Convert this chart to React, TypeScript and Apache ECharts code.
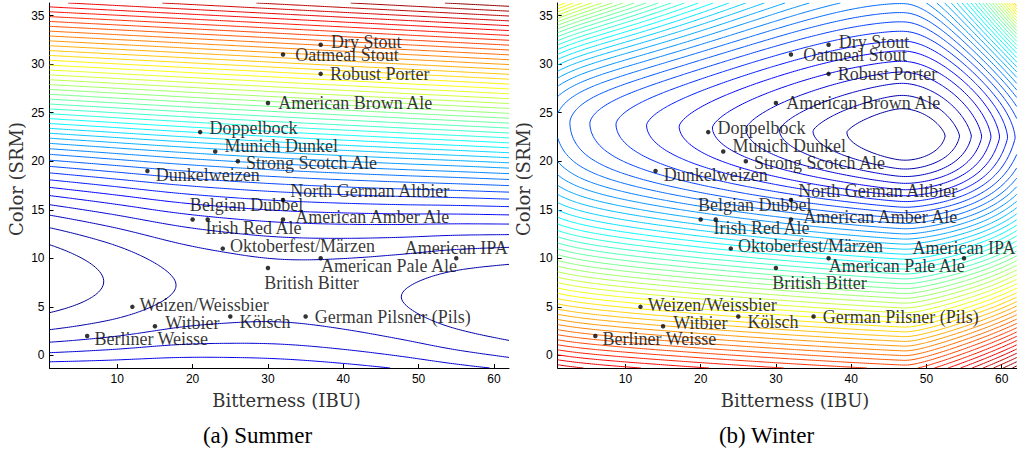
import React, { useEffect, useRef } from 'react';
import * as echarts from 'echarts';

// ---------- data ----------
const beerNames = [
  'Dry Stout', 'Oatmeal Stout', 'Robust Porter', 'American Brown Ale', 'Doppelbock',
  'Munich Dunkel', 'Strong Scotch Ale', 'Dunkelweizen', 'North German Altbier', 'Belgian Dubbel',
  'Irish Red Ale', 'American Amber Ale', 'Oktoberfest/Märzen', 'American IPA', 'American Pale Ale',
  'British Bitter', 'Weizen/Weissbier', 'Witbier', 'Kölsch', 'German Pilsner (Pils)', 'Berliner Weisse',
];
const beerIBU = [37, 32, 37, 30, 21, 23, 26, 14, 32, 20, 22, 32, 24, 55, 37, 30, 12, 15, 25, 35, 6];
const beerSRM = [32, 31, 29, 26, 23, 21, 20, 19, 16, 14, 14, 14, 11, 10, 10, 9, 5, 3, 4, 4, 2];

const xTicks = [10, 20, 30, 40, 50, 60];
const yTicks = [0, 5, 10, 15, 20, 25, 30, 35];
const xRange = [1, 62];
const yRange = [-1.3, 36.3];

// summer surface: valley line and valley-floor height
const summerValleyIBU = [1, 62];
const summerValleySRM = [7.9, 5.46];
const summerFloorIBU = [1, 8.2, 17.8, 26, 32, 40, 47.7, 55, 62];
const summerFloorVal = [0.2, 1.0, 2.0, 2.4, 2.5, 2.35, 2.0, 1.5, 1.1];

// winter surface: minimum location
const winterMinIBU = 47;
const winterMinSRM = 22.8;

// ---------- label placement (style) ----------
const labelStyle: Record<string, any> = {
  'Dry Stout': { offset: [1, -3] },
  'Oatmeal Stout': { offset: [3, 1] },
  'Robust Porter': { offset: [0, 0] },
  'American Brown Ale': { offset: [1, 0] },
  'Doppelbock': { offset: [0, -4] },
  'Munich Dunkel': { offset: [0, -6] },
  'Strong Scotch Ale': { offset: [-1, 2] },
  'Dunkelweizen': { offset: [-1, 4] },
  'North German Altbier': { offset: [-2, -9] },
  'Belgian Dubbel': { offset: [-12, -14] },
  'Irish Red Ale': { offset: [-11.5, 9] },
  'American Amber Ale': { offset: [3, -2] },
  'Oktoberfest/Märzen': { offset: [-2, -3] },
  'American IPA': { position: 'top', distance: 0, offset: [0, 1] },
  'American Pale Ale': { offset: [-9, 8] },
  'British Bitter': { offset: [-13, 15] },
  'Weizen/Weissbier': { offset: [-2, -2] },
  'Witbier': { offset: [1, -3] },
  'Kölsch': { offset: [0, 5] },
  'German Pilsner (Pils)': { offset: [0, 0] },
  'Berliner Weisse': { offset: [-2, 3] },
};

type Pt = [number, number];

function interp(xs: number[], ys: number[], x: number): number {
  const n = xs.length;
  if (x <= xs[0]) return ys[0];
  if (x >= xs[n - 1]) return ys[n - 1];
  let k = 0;
  while (k < n - 2 && x > xs[k + 1]) k++;
  const slope = (i: number) => {
    if (i === 0) return (ys[1] - ys[0]) / (xs[1] - xs[0]);
    if (i === n - 1) return (ys[n - 1] - ys[n - 2]) / (xs[n - 1] - xs[n - 2]);
    const d0 = (ys[i] - ys[i - 1]) / (xs[i] - xs[i - 1]);
    const d1 = (ys[i + 1] - ys[i]) / (xs[i + 1] - xs[i]);
    return d0 * d1 <= 0 ? 0 : (d0 + d1) / 2;
  };
  const h = xs[k + 1] - xs[k];
  const t = (x - xs[k]) / h;
  const m0 = slope(k) * h, m1 = slope(k + 1) * h;
  const t2 = t * t, t3 = t2 * t;
  return (2 * t3 - 3 * t2 + 1) * ys[k] + (t3 - 2 * t2 + t) * m0 + (-2 * t3 + 3 * t2) * ys[k + 1] + (t3 - t2) * m1;
}

function summerField(x: number, y: number): number {
  const c = summerValleySRM[0] + (summerValleySRM[1] - summerValleySRM[0]) * (x - summerValleyIBU[0]) / (summerValleyIBU[1] - summerValleyIBU[0]);
  const d = y - c;
  const ad = Math.abs(d);
  const phi = ad < 15 ? (d * d) / 15 : 15 + 2 * (ad - 15);
  return phi + interp(summerFloorIBU, summerFloorVal, x) * Math.exp(-(d * d) / 128);
}

function winterField(x: number, y: number): number {
  const u = x - winterMinIBU;
  const yc = winterMinSRM - 0.028 * (x - winterMinIBU);
  const v = y - yc;
  let A: number;
  if (u < 0) {
    const s = -u;
    A = 0.225 * (Math.sqrt(s * s + 2.25) - 1.5) + 1.2 * Math.exp((s - 46) / 3.4);
  } else A = 0.064 * Math.pow(u, 1.81);
  const B = v > 0 ? 0.41 * Math.pow(v, 1.28) : 2.1 * (Math.sqrt(v * v + 26) - 5.1);
  const L0 = 10;
  const s2 = A * A + B * B + L0 * (A + B);
  const f = (-L0 + Math.sqrt(L0 * L0 + 4 * s2)) / 2;
  let cross = 0;
  if (u < 0 && v > 0) cross = 5.0e-5 * (u * v) * (u * v);
  else if (u > 0 && v < 0) cross = 0.027 * ((u * u) / (u + 3)) * -v;
  else if (u > 0 && v > 0) cross = 4.2e-4 * (u * v) * (u * v);
  return f + cross;
}

function jet(t: number): string {
  const cl = (v: number) => Math.max(0, Math.min(1, v));
  const r = cl(1.5 - Math.abs(4 * t - 3));
  const g = cl(1.5 - Math.abs(4 * t - 2));
  const b = cl(1.5 - Math.abs(4 * t - 1));
  return `rgb(${Math.round(r * 255)},${Math.round(g * 255)},${Math.round(b * 255)})`;
}

function buildContours(field: (x: number, y: number) => number, levelStart: number, nx: number, ny: number) {
  const [x0, x1] = xRange;
  const [y0, y1] = yRange;
  const xs = Array.from({ length: nx }, (_, i) => x0 + ((x1 - x0) * i) / (nx - 1));
  const ys = Array.from({ length: ny }, (_, j) => y0 + ((y1 - y0) * j) / (ny - 1));
  const V = new Float64Array(nx * ny);
  let vmin = Infinity, vmax = -Infinity;
  for (let j = 0; j < ny; j++)
    for (let i = 0; i < nx; i++) {
      const v = field(xs[i], ys[j]);
      V[j * nx + i] = v;
      if (v < vmin) vmin = v;
      if (v > vmax) vmax = v;
    }
  const levels: number[] = [];
  for (let L = levelStart; L < vmax; L += 1) levels.push(L);
  const out: { coords: Pt[]; lineStyle: any }[] = [];
  const table: Record<number, number[][]> = {
    1: [[3, 0]], 2: [[0, 1]], 3: [[3, 1]], 4: [[1, 2]], 6: [[0, 2]], 7: [[3, 2]],
    8: [[2, 3]], 9: [[0, 2]], 11: [[1, 2]], 12: [[1, 3]], 13: [[0, 1]], 14: [[3, 0]],
  };
  for (const L of levels) {
    const segs: { ka: number; pa: Pt; kb: number; pb: Pt }[] = [];
    for (let j = 0; j < ny - 1; j++) {
      for (let i = 0; i < nx - 1; i++) {
        const a = V[j * nx + i], b = V[j * nx + i + 1], c = V[(j + 1) * nx + i + 1], d = V[(j + 1) * nx + i];
        const idx = (a > L ? 1 : 0) | (b > L ? 2 : 0) | (c > L ? 4 : 0) | (d > L ? 8 : 0);
        if (idx === 0 || idx === 15) continue;
        let pairs: number[][];
        if (idx === 5 || idx === 10) {
          const centre = (a + b + c + d) / 4 > L;
          if (idx === 5) pairs = centre ? [[0, 1], [2, 3]] : [[3, 0], [1, 2]];
          else pairs = centre ? [[3, 0], [1, 2]] : [[0, 1], [2, 3]];
        } else pairs = table[idx];
        const edge = (e: number): [number, Pt] => {
          if (e === 0) { const t = (L - a) / (b - a); return [(j * nx + i) * 2, [xs[i] + t * (xs[i + 1] - xs[i]), ys[j]]]; }
          if (e === 1) { const t = (L - b) / (c - b); return [(j * nx + i + 1) * 2 + 1, [xs[i + 1], ys[j] + t * (ys[j + 1] - ys[j])]]; }
          if (e === 2) { const t = (L - d) / (c - d); return [((j + 1) * nx + i) * 2, [xs[i] + t * (xs[i + 1] - xs[i]), ys[j + 1]]]; }
          const t = (L - a) / (d - a);
          return [(j * nx + i) * 2 + 1, [xs[i], ys[j] + t * (ys[j + 1] - ys[j])]];
        };
        for (const [e1, e2] of pairs) {
          const [ka, pa] = edge(e1);
          const [kb, pb] = edge(e2);
          segs.push({ ka, pa, kb, pb });
        }
      }
    }
    const map = new Map<number, number[]>();
    segs.forEach((s, k) => {
      if (!map.has(s.ka)) map.set(s.ka, []);
      map.get(s.ka)!.push(k);
      if (!map.has(s.kb)) map.set(s.kb, []);
      map.get(s.kb)!.push(k);
    });
    const used = new Uint8Array(segs.length);
    const color = jet((L - vmin) / (vmax - vmin));
    for (let k = 0; k < segs.length; k++) {
      if (used[k]) continue;
      used[k] = 1;
      const fwd: Pt[] = [segs[k].pa, segs[k].pb];
      const back: Pt[] = [];
      const walk = (startKey: number, arr: Pt[]) => {
        let key = startKey;
        for (;;) {
          const list = map.get(key) || [];
          let n = -1;
          for (const c of list) if (!used[c]) { n = c; break; }
          if (n < 0) break;
          used[n] = 1;
          const s = segs[n];
          if (s.ka === key) { arr.push(s.pb); key = s.kb; } else { arr.push(s.pa); key = s.ka; }
        }
      };
      walk(segs[k].kb, fwd);
      walk(segs[k].ka, back);
      const pts = back.reverse().concat(fwd).map((p) => [Math.round(p[0] * 1000) / 1000, Math.round(p[1] * 1000) / 1000] as Pt);
      out.push({ coords: pts, lineStyle: { color } });
    }
  }
  return out;
}

const FONT_SERIF = 'Liberation Serif';

function axes(gridIndex: number) {
  const x = {
    type: 'value', gridIndex, min: xRange[0], max: xRange[1],
    axisLine: { show: true, onZero: false, lineStyle: { color: '#000', width: 1 } },
    axisTick: { show: true, inside: true, length: 4, customValues: xTicks, lineStyle: { color: '#000' } },
    axisLabel: { customValues: xTicks, color: '#000', fontFamily: 'Liberation Sans', fontSize: 12, margin: 5 },
    splitLine: { show: false },
  };
  const y = {
    type: 'value', gridIndex, min: yRange[0], max: yRange[1],
    axisLine: { show: true, onZero: false, lineStyle: { color: '#000', width: 1 } },
    axisTick: { show: true, inside: true, length: 4, customValues: yTicks, lineStyle: { color: '#000' } },
    axisLabel: { customValues: yTicks, color: '#000', fontFamily: 'Liberation Sans', fontSize: 12, margin: 5 },
    splitLine: { show: false },
  };
  return { x, y };
}

function scatterSeries(idx: number) {
  return {
    type: 'scatter', xAxisIndex: idx, yAxisIndex: idx, symbolSize: 4.5, z: 5, silent: true,
    itemStyle: { color: '#000' },
    label: {
      show: true, formatter: '{b}', position: 'right', distance: 7,
      fontFamily: FONT_SERIF, fontSize: 18, color: '#000',
    },
    data: beerNames.map((n, i) => ({ name: n, value: [beerIBU[i], beerSRM[i]], label: labelStyle[n] || {} })),
  };
}

export default function App() {
  const ref = useRef<HTMLDivElement>(null);
  useEffect(() => {
    if (!ref.current) return;
    const chart = echarts.init(ref.current, undefined, { renderer: 'svg' });
    const summerLines = buildContours(summerField, 1, 220, 160);
    const winterLines = buildContours(winterField, 1.4, 220, 160);
    const a0 = axes(0), a1 = axes(1);
    const titleFont = '18px "DejaVu Serif"';
    const ts = { fill: '#333', align: 'center', verticalAlign: 'middle', textAlign: 'center', textVerticalAlign: 'middle' };
    chart.setOption({
      animation: false,
      backgroundColor: '#fff',
      grid: [
        { left: 49.5, top: 3, width: 459.5, height: 365 },
        { left: 557.7, top: 3, width: 459, height: 365 },
      ],
      xAxis: [a0.x, a1.x],
      yAxis: [a0.y, a1.y],
      series: [
        { type: 'lines', coordinateSystem: 'cartesian2d', xAxisIndex: 0, yAxisIndex: 0, polyline: true, silent: true, z: 1, lineStyle: { width: 1, opacity: 1 }, data: summerLines },
        { type: 'lines', coordinateSystem: 'cartesian2d', xAxisIndex: 1, yAxisIndex: 1, polyline: true, silent: true, z: 1, lineStyle: { width: 1, opacity: 1 }, data: winterLines },
        scatterSeries(0),
        scatterSeries(1),
      ],
      graphic: [
        { type: 'text', x: 286.5, y: 400, style: { ...ts, text: 'Bitterness (IBU)', font: titleFont } },
        { type: 'text', x: 795, y: 400, style: { ...ts, text: 'Bitterness (IBU)', font: titleFont } },
        { type: 'text', x: 16, y: 179, rotation: Math.PI / 2, style: { ...ts, text: 'Color (SRM)', font: titleFont } },
        { type: 'text', x: 523, y: 179, rotation: Math.PI / 2, style: { ...ts, text: 'Color (SRM)', font: titleFont } },
        { type: 'text', x: 257.5, y: 435, style: { ...ts, fill: '#000', text: '(a) Summer', font: '23px "Liberation Serif"' } },
        { type: 'text', x: 766.5, y: 435, style: { ...ts, fill: '#000', text: '(b) Winter', font: '23px "Liberation Serif"' } },
      ],
    });
    return () => chart.dispose();
  }, []);
  return <div ref={ref} style={{ position: 'absolute', left: 0, top: 0, width: 1022, height: 451 }} />;
}
